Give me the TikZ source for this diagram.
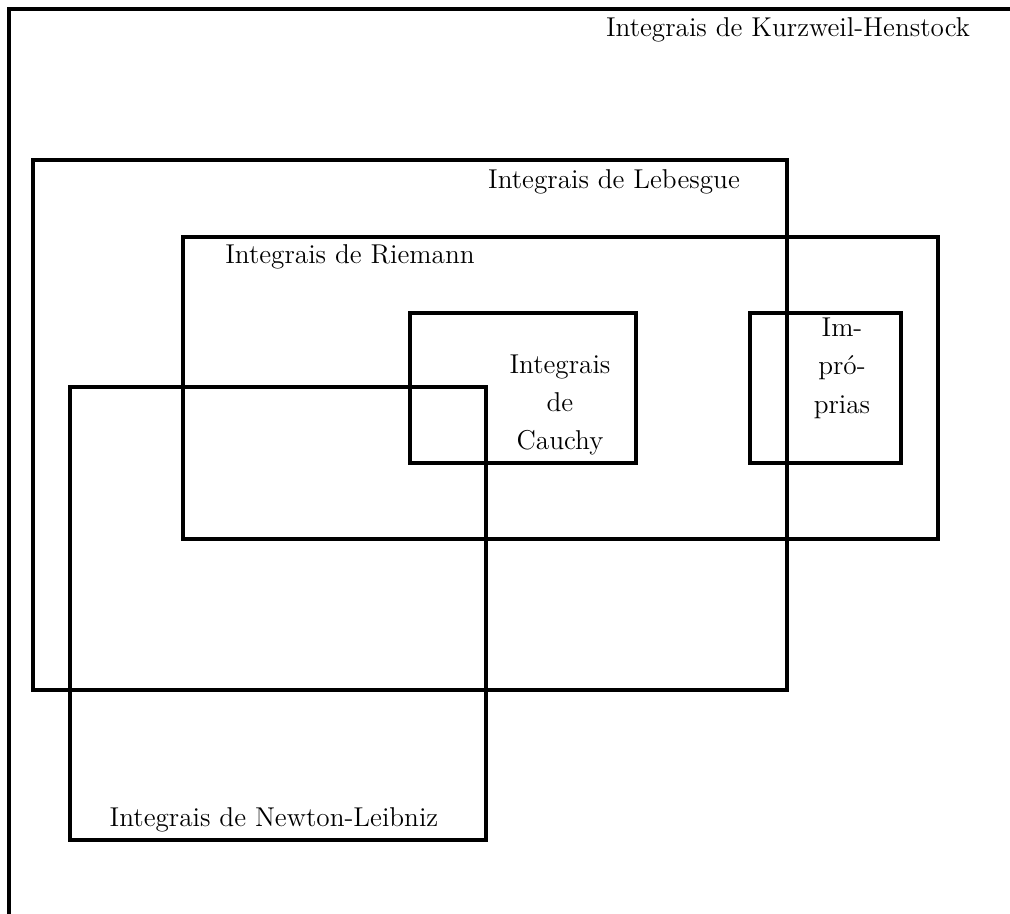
\documentclass[tikz,border=0pt]{standalone}
\usepackage{tikz}
\usetikzlibrary{positioning}

\begin{document}
\begin{tikzpicture}[x=0.016cm,y=-0.016cm,font=\fontsize{12.4}{17.5}\selectfont]
\tikzset{setbox/.style={draw,line width=2pt},
  setlabel/.style={inner sep=0pt,align=center}}
\useasboundingbox (0,0) rectangle (1010,913);
\clip (0,0) rectangle (1010,913);
%% outer set runs off the page at right and bottom
\draw[setbox] (9,9) rectangle (1030,940);
\draw[setbox] (33,160) rectangle (787,690);
\draw[setbox] (183,237) rectangle (938,539);
\draw[setbox] (410,313) rectangle (636,463);
\draw[setbox] (750,313) rectangle (901,463);
\draw[setbox] (70,387) rectangle (486,840);
\node[setlabel] (kh) at (788,30) {Integrais de Kurzweil-Henstock};
\node[setlabel] (leb) at (614,182) {Integrais de Lebesgue};
\node[setlabel] (rie) at (350,257) {Integrais de Riemann};
\node[setlabel] (cau) at (560,405) {Integrais\\de\\Cauchy};
\node[setlabel] (imp) at (842,368) {Im-\\pró-\\prias};
\node[setlabel] (nl) at (274,820) {Integrais de Newton-Leibniz};
\end{tikzpicture}
\end{document}
